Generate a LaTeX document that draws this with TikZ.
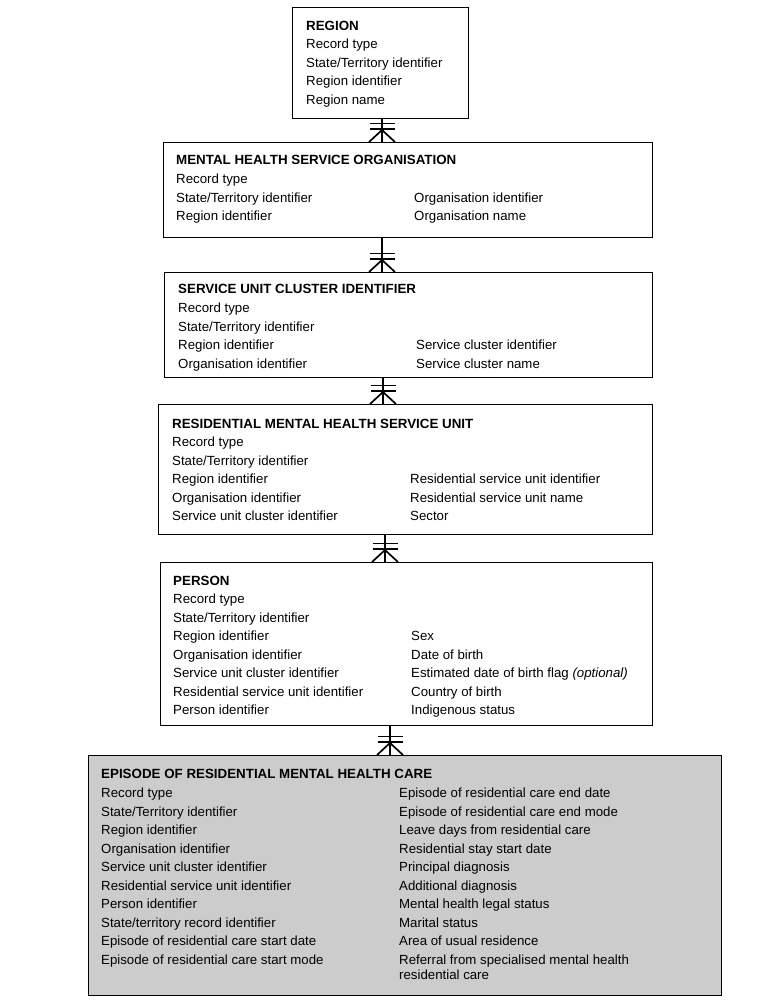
\documentclass[tikz,border=0pt]{standalone}
\usepackage{fontspec}
\setmainfont{Liberation Sans}
\usetikzlibrary{positioning}
\usetikzlibrary{calc}
\definecolor{shade}{RGB}{204,204,204}

% one-to-many link: x position, upper entity, lower entity
\newcommand{\onemany}[3]{%
  \coordinate (lx) at (#1,0);
  \coordinate (lo) at (#3.north -| lx);
  \draw[rel] (#2.south -| lx) -- (lo);
  \draw[rel] ($(lo)+(-12.5,-18.5)$) -- ($(lo)+(12.5,-18.5)$);
  \draw[rel] ($(lo)+(-12.5,-13)$) -- ($(lo)+(12.5,-13)$);
  \draw[rel] ($(lo)+(-13,0)$) -- ($(lo)+(0,-12)$) -- ($(lo)+(13,0)$);
}

\begin{document}
\begin{tikzpicture}[
    x=1pt, y=-1pt,
    entity/.style={draw, line width=1.2pt, anchor=north west, inner sep=0pt},
    title/.style={anchor=base west, inner sep=0pt, font=\bfseries\fontsize{13.35}{16}\selectfont},
    field/.style={anchor=base west, inner sep=0pt, font=\fontsize{13.25}{16}\selectfont},
    rel/.style={line width=1.7pt}
]
    \useasboundingbox (0,0) rectangle (763,1004);

    % entities
    \node[entity, minimum width=176pt, minimum height=111pt] (region) at (292,7) {};
    \node[entity, minimum width=489pt, minimum height=95pt] (mhso) at (163,142) {};
    \node[entity, minimum width=488pt, minimum height=105pt] (cluster) at (164,272) {};
    \node[entity, minimum width=494pt, minimum height=130pt] (unit) at (158,404) {};
    \node[entity, minimum width=492pt, minimum height=163pt] (person) at (160,562) {};
    \node[entity, fill=shade, minimum width=633pt, minimum height=240pt] (episode) at (88,755) {};

    % REGION
    \node[title] (region-t) at (306,30.5) {REGION};
    \foreach \txt [count=\i from 0] in {Record type, State/Territory identifier, Region identifier, Region name}
        \node[field] (region-l\i) at (306,{48.5+18.5*\i}) {\txt};

    % MENTAL HEALTH SERVICE ORGANISATION
    \node[title] (mhso-t) at (176,164.5) {MENTAL HEALTH SERVICE ORGANISATION};
    \foreach \txt [count=\i from 0] in {Record type, State/Territory identifier, Region identifier}
        \node[field] (mhso-l\i) at (176,{183.5+18.5*\i}) {\txt};
    \foreach \txt [count=\i from 0] in {Organisation identifier, Organisation name}
        \node[field] (mhso-r\i) at (414,{202+18.5*\i}) {\txt};

    % SERVICE UNIT CLUSTER IDENTIFIER
    \node[title] (cluster-t) at (178,293.5) {SERVICE UNIT CLUSTER IDENTIFIER};
    \foreach \txt [count=\i from 0] in {Record type, State/Territory identifier, Region identifier, Organisation identifier}
        \node[field] (cluster-l\i) at (178,{312.5+18.5*\i}) {\txt};
    \foreach \txt [count=\i from 0] in {Service cluster identifier, Service cluster name}
        \node[field] (cluster-r\i) at (416,{349.5+18.5*\i}) {\txt};

    % RESIDENTIAL MENTAL HEALTH SERVICE UNIT
    \node[title] (unit-t) at (172,428.5) {RESIDENTIAL MENTAL HEALTH SERVICE UNIT};
    \foreach \txt [count=\i from 0] in {Record type, State/Territory identifier, Region identifier, Organisation identifier, Service unit cluster identifier}
        \node[field] (unit-l\i) at (172,{446.5+18.5*\i}) {\txt};
    \foreach \txt [count=\i from 0] in {Residential service unit identifier, Residential service unit name, Sector}
        \node[field] (unit-r\i) at (410,{483.5+18.5*\i}) {\txt};

    % PERSON
    \node[title] (person-t) at (173,585.5) {PERSON};
    \foreach \txt [count=\i from 0] in {Record type, State/Territory identifier, Region identifier, Organisation identifier, Service unit cluster identifier, Residential service unit identifier, Person identifier}
        \node[field] (person-l\i) at (173,{603.5+18.5*\i}) {\txt};
    \foreach \txt [count=\i from 0] in {Sex, Date of birth, Estimated date of birth flag \textit{(optional)}, Country of birth, Indigenous status}
        \node[field] (person-r\i) at (411,{640.5+18.5*\i}) {\txt};

    % EPISODE OF RESIDENTIAL MENTAL HEALTH CARE
    \node[title] (episode-t) at (101,778.5) {EPISODE OF RESIDENTIAL MENTAL HEALTH CARE};
    \foreach \txt [count=\i from 0] in {Record type, State/Territory identifier, Region identifier, Organisation identifier, Service unit cluster identifier, Residential service unit identifier, Person identifier, State/territory record identifier, Episode of residential care start date, Episode of residential care start mode}
        \node[field] (episode-l\i) at (101,{797.5+18.5*\i}) {\txt};
    \foreach \txt [count=\i from 0] in {Episode of residential care end date, Episode of residential care end mode, Leave days from residential care, Residential stay start date, Principal diagnosis, Additional diagnosis, Mental health legal status, Marital status, Area of usual residence, Referral from specialised mental health}
        \node[field] (episode-r\i) at (399,{797.5+18.5*\i}) {\txt};
    \node[field] (episode-r10) at (399,979.5) {residential care};

    % links
    \onemany{382}{region}{mhso}
    \onemany{382}{mhso}{cluster}
    \onemany{383}{cluster}{unit}
    \onemany{385}{unit}{person}
    \onemany{390}{person}{episode}
\end{tikzpicture}
\end{document}
